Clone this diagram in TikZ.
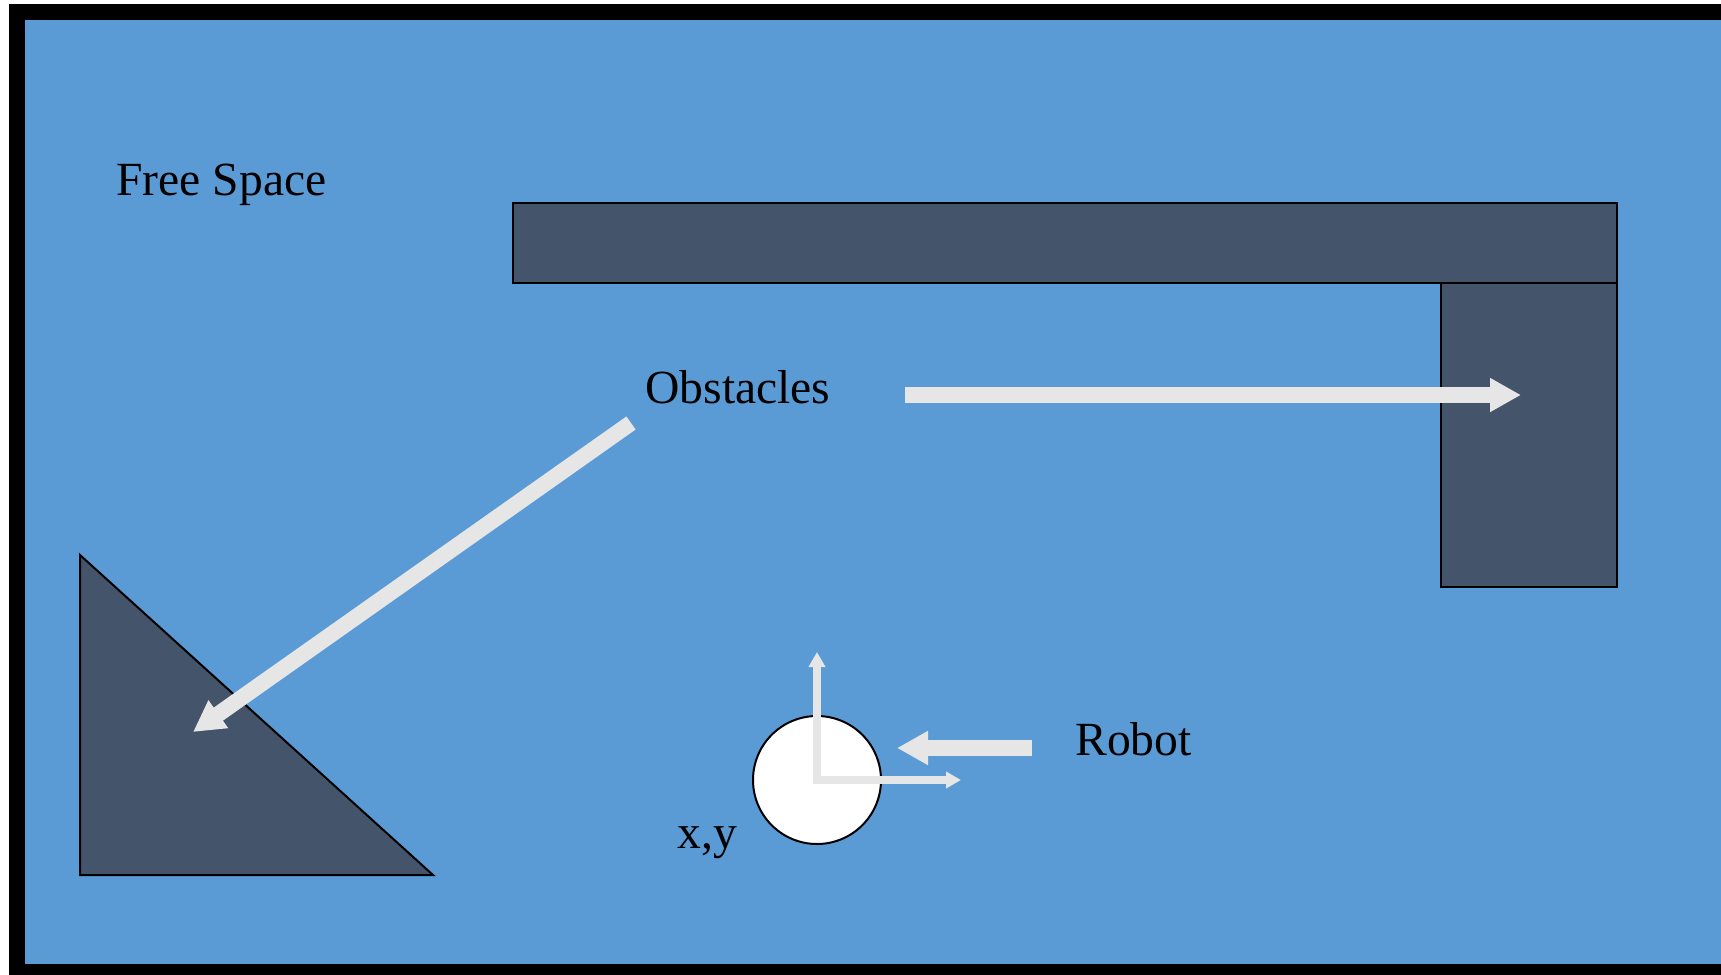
\documentclass[tikz,border=0pt]{standalone}
\usepackage{fontspec}
\setmainfont{Liberation Serif}
\usetikzlibrary{arrows.meta,positioning}
\definecolor{freeblue}{HTML}{5B9BD5}
\definecolor{obstgray}{HTML}{44546A}
\definecolor{arrowgray}{HTML}{E7E6E6}
\tikzset{
  obstacle/.style={fill=obstgray, draw=black, line width=1pt},
  label/.style={font=\fontsize{23.8}{26}\selectfont, inner sep=0pt, anchor=base west},
  bigarrow/.style={draw=arrowgray, line width=8pt, -{Triangle[length=15.5pt,width=16pt]}},
  axisarrow/.style={draw=arrowgray, line width=4pt, line join=miter,
    {Triangle[length=7.5pt,width=8pt]}-{Triangle[length=7.5pt,width=8pt]}}
}

\begin{document}
\begin{tikzpicture}[x=0.5pt,y=-0.5pt]
		\useasboundingbox (0,0) rectangle (1721,975);
		% frame and free space
		\fill[black] (9,4) rectangle (1721,975);
		\fill[freeblue] (25,20) rectangle (1721,964);
		% obstacles
		\draw[obstacle] (1441,203) rectangle (1617,587);
		\draw[obstacle] (513,203) rectangle (1617,283);
		\draw[obstacle] (80,555) -- (80,875) -- (433,875) -- cycle;
		% robot
		\node[circle, fill=white, draw=black, line width=1pt, minimum size=64pt, inner sep=0pt] (robot) at (817,780) {};
		\coordinate (xtip) at (961,780);
		\coordinate (ytip) at (817,652);
		\draw[axisarrow] (xtip) -- (robot.center) -- (ytip);
		% labels
		\node[label] (free) at (116,195) {Free Space};
		\node[label] (obst) at (645,403) {Obstacles};
		\node[label] (rob) at (1075,755) {Robot};
		\node[label] (pos) at (677,848) {x,y};
		% pointers
		\coordinate (obstR) at (905,395);
		\coordinate (blockR) at (1521,395);
		\coordinate (obstL) at (631,423);
		\coordinate (triL) at (193,732);
		\coordinate (robS) at (1032,748);
		\coordinate (robE) at (897,748);
		\draw[bigarrow] (obstR) -- (blockR);
		\draw[bigarrow] (obstL) -- (triL);
		\draw[bigarrow] (robS) -- (robE);
	\end{tikzpicture}
\end{document}
